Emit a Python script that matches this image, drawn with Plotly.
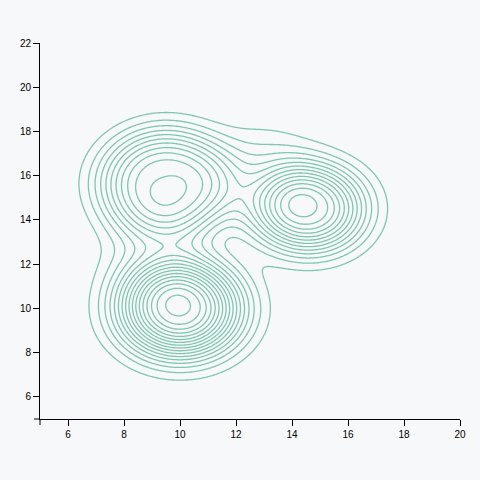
import numpy as np
import plotly.graph_objects as go

# Density components: centre, spreads, shape exponent, peak height
# (three clusters, plus two low bridges that join the top-left cluster to its neighbours)
center_x = [9.5, 14.62, 10.0, 12.9, 9.2]
center_y = [15.65, 14.51, 9.98, 15.8, 12.5]
spread_x = [2.325, 1.93, 2.13, 2.0, 1.9]
spread_y = [2.4, 1.93, 2.13, 2.3, 2.3]
shape_exp = [3.0, 2.5, 2.5, 2.5, 2.5]
peak = [10.85, 12.45, 16.85, 2.5, 2.0]

x_ticks = [6, 8, 10, 12, 14, 16, 18, 20]
y_ticks = [6, 8, 10, 12, 14, 16, 18, 20, 22]

gx = np.linspace(5, 20, 301)
gy = np.linspace(5, 22, 341)
X, Y = np.meshgrid(gx, gy)
Z = np.zeros_like(X)
for cx, cy, sx, sy, p, a in zip(center_x, center_y, spread_x, spread_y, shape_exp, peak):
    r = np.sqrt(((X - cx) / sx) ** 2 + ((Y - cy) / sy) ** 2)
    Z += a * np.exp(-(r ** p))

line_color = "#80c6b0"
fig = go.Figure(go.Contour(
    x=gx, y=gy, z=Z,
    contours=dict(coloring="lines", start=1, end=18, size=1),
    colorscale=[[0, line_color], [1, line_color]],
    showscale=False,
    line=dict(width=1.3, smoothing=1),
    hoverinfo="skip",
))

bg = "#f7f8fa"
fig.update_layout(
    width=480, height=480,
    margin=dict(l=40, r=20, t=43, b=61),
    paper_bgcolor=bg, plot_bgcolor=bg,
    showlegend=False,
    font=dict(family="Liberation Sans, Arial, sans-serif", size=10, color="#000"),
    xaxis=dict(range=[5, 20], tickvals=x_ticks, ticks="outside", ticklen=6, tickwidth=1,
               tickcolor="#000", showline=True, linecolor="#000", linewidth=1,
               showgrid=False, zeroline=False, fixedrange=True),
    yaxis=dict(range=[5, 22], tickvals=y_ticks, ticks="outside", ticklen=6, tickwidth=1,
               tickcolor="#000", showline=True, linecolor="#000", linewidth=1,
               showgrid=False, zeroline=False, fixedrange=True),
)
# outer ticks at the axis origin (d3 style)
fig.add_shape(type="line", xref="paper", yref="paper", x0=0, x1=0, y0=0, y1=-6/376,
              line=dict(color="#000", width=1))
fig.add_shape(type="line", xref="paper", yref="paper", x0=0, x1=-6/420, y0=0, y1=0,
              line=dict(color="#000", width=1))

fig.write_html(
    "out.html",
    config={"displayModeBar": False},
    post_script="document.body.style.margin='0';document.body.style.background='#f7f8fa';",
)
